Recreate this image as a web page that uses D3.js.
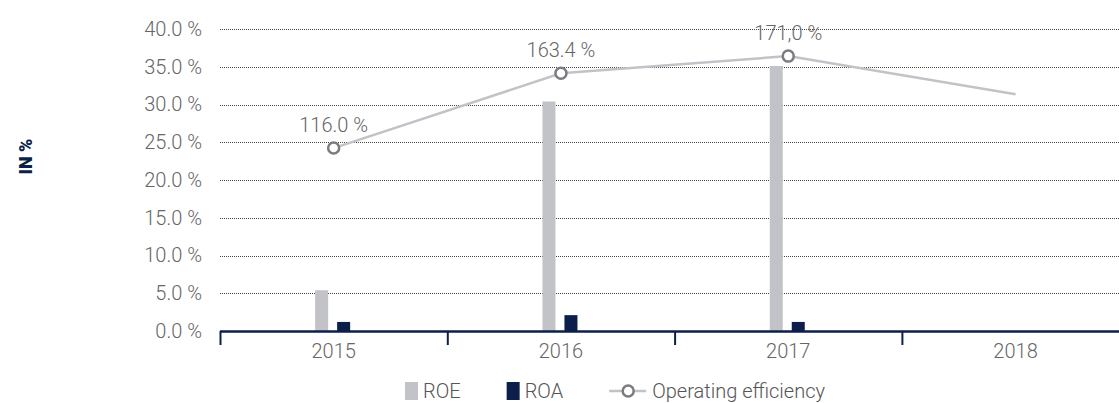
<!DOCTYPE html>
<html>
<head>
<meta charset="utf-8">
<script src="https://cdn.jsdelivr.net/npm/d3@7"></script>
<style>
  body { margin: 0; background: #fff; }
  text { font-family: Roboto, "DejaVu Sans", sans-serif; }
</style>
</head>
<body>
<div id="chart"></div>
<script>
// chart data
let years = ["2015", "2016", "2017", "2018"];
let roe = [5.4, 30.4, 35.1, null];
let roa = [1.2, 2.1, 1.2, null];
// operating efficiency is drawn against a hidden secondary scale
let opEff = [116.0, 163.4, 174.3, 150.1];
let opLabels = ["116.0 %", "163.4 %", "171,0 %", null];
let yTicks = [0, 5, 10, 15, 20, 25, 30, 35, 40];

let width = 1119, height = 403;
let plotLeft = 220, plotTop = 29, plotBottom = 331;
let navy = "#0c1f4a", lightGray = "#c2c3c8", textGray = "#666";

let svg = d3.select("#chart")
    .append("svg")
    .attr("width", width)
    .attr("height", height);

let xScale = d3.scaleBand()
    .domain(years)
    .range([plotLeft, plotLeft + 4 * 227.3]);

let yScale = d3.scaleLinear()
    .domain([0, 40])
    .range([plotBottom, plotTop]);

let y2Scale = d3.scaleLinear()
    .domain([0, 191.5])
    .range([plotBottom, plotTop]);

let subScale = d3.scaleBand()
    .domain(["ROE", "ROA"])
    .range([-18.5, 16.5])
    .paddingInner(0.409);

// gridlines + y tick labels
let yAxis = d3.axisLeft(yScale)
    .tickValues(yTicks)
    .tickSize(-(width - plotLeft + 20))
    .tickPadding(18)
    .tickFormat(d => d.toFixed(1) + " %");

let gy = svg.append("g")
    .attr("transform", "translate(" + plotLeft + ",0)")
    .call(yAxis);
gy.select(".domain").remove();
gy.selectAll(".tick line")
    .attr("stroke", "#444")
    .attr("stroke-width", 1)
    .attr("stroke-dasharray", "1,1")
    .attr("shape-rendering", "crispEdges");
gy.selectAll(".tick text")
    .attr("fill", textGray)
    .attr("font-size", "20px")
    .attr("font-weight", 300)
    .attr("font-family", "Roboto");

// bars
svg.append("g").selectAll("rect")
    .data(years.filter((d, i) => roe[i] != null))
    .enter()
    .append("rect")
    .attr("x", d => xScale(d) + xScale.bandwidth() / 2 + subScale("ROE"))
    .attr("y", d => yScale(roe[years.indexOf(d)]))
    .attr("width", subScale.bandwidth())
    .attr("height", d => yScale(0) - yScale(roe[years.indexOf(d)]))
    .attr("fill", lightGray);

svg.append("g").selectAll("rect")
    .data(years.filter((d, i) => roa[i] != null))
    .enter()
    .append("rect")
    .attr("x", d => xScale(d) + xScale.bandwidth() / 2 + subScale("ROA"))
    .attr("y", d => yScale(roa[years.indexOf(d)]))
    .attr("width", subScale.bandwidth())
    .attr("height", d => yScale(0) - yScale(roa[years.indexOf(d)]))
    .attr("fill", navy);

// x axis
svg.append("line")
    .attr("x1", plotLeft)
    .attr("x2", width + 10)
    .attr("y1", plotBottom + 0.5)
    .attr("y2", plotBottom + 0.5)
    .attr("stroke", navy)
    .attr("stroke-width", 2.5);

svg.append("g").selectAll("line")
    .data(years)
    .enter()
    .append("line")
    .attr("x1", d => xScale(d) + 0.5)
    .attr("x2", d => xScale(d) + 0.5)
    .attr("y1", plotBottom)
    .attr("y2", plotBottom + 14)
    .attr("stroke", navy)
    .attr("stroke-width", 2);

let xAxis = d3.axisBottom(xScale)
    .tickSize(0)
    .tickPadding(13);
let gx = svg.append("g")
    .attr("transform", "translate(0," + plotBottom + ")")
    .call(xAxis);
gx.select(".domain").remove();
gx.selectAll(".tick text")
    .attr("fill", textGray)
    .attr("font-size", "20px")
    .attr("font-weight", 300)
    .attr("font-family", "Roboto");

// operating efficiency line
let cx = d => xScale(d) + xScale.bandwidth() / 2;
let line = d3.line()
    .x((d, i) => cx(years[i]))
    .y(d => y2Scale(d));

svg.append("path")
    .datum(opEff)
    .attr("d", line)
    .attr("fill", "none")
    .attr("stroke", lightGray)
    .attr("stroke-width", 2.5);

let marked = years.filter((d, i) => opLabels[i] != null);

svg.append("g").selectAll("circle")
    .data(marked)
    .enter()
    .append("circle")
    .attr("cx", d => cx(d))
    .attr("cy", d => y2Scale(opEff[years.indexOf(d)]))
    .attr("r", 5.5)
    .attr("fill", "#fff")
    .attr("stroke", "#7b7b80")
    .attr("stroke-width", 2.5);

svg.append("g").selectAll("text")
    .data(marked)
    .enter()
    .append("text")
    .text(d => opLabels[years.indexOf(d)])
    .attr("x", d => cx(d))
    .attr("y", d => y2Scale(opEff[years.indexOf(d)]) - 16)
    .attr("text-anchor", "middle")
    .attr("font-size", "20px")
    .attr("font-weight", 300)
    .attr("fill", textGray);

// y axis title
svg.append("text")
    .text("IN %")
    .attr("transform", "translate(32,156.5) rotate(-90)")
    .attr("text-anchor", "middle")
    .attr("font-size", "18px")
    .attr("font-weight", 900)
    .attr("fill", navy);

// legend
let legend = svg.append("g").attr("transform", "translate(405,382)");
let lx = 0;
[["ROE", lightGray, "rect"], ["ROA", navy, "rect"], ["Operating efficiency", null, "line"]].forEach(item => {
    let g = legend.append("g").attr("transform", "translate(" + lx + ",0)");
    let textX;
    if (item[2] == "rect") {
        g.append("rect")
            .attr("width", 13)
            .attr("height", 18)
            .attr("fill", item[1]);
        textX = 18;
    } else {
        g.append("line")
            .attr("x1", 0).attr("x2", 37)
            .attr("y1", 9).attr("y2", 9)
            .attr("stroke", lightGray)
            .attr("stroke-width", 2.5);
        g.append("circle")
            .attr("cx", 19).attr("cy", 9).attr("r", 5.5)
            .attr("fill", "#fff")
            .attr("stroke", "#7b7b80")
            .attr("stroke-width", 2.5);
        textX = 43;
    }
    let t = g.append("text")
        .text(item[0])
        .attr("x", textX)
        .attr("y", 16)
        .attr("font-size", "20px")
        .attr("font-weight", 300)
        .attr("fill", "#555");
    lx += textX + t.node().getComputedTextLength() + 46;
});
</script>
</body>
</html>
